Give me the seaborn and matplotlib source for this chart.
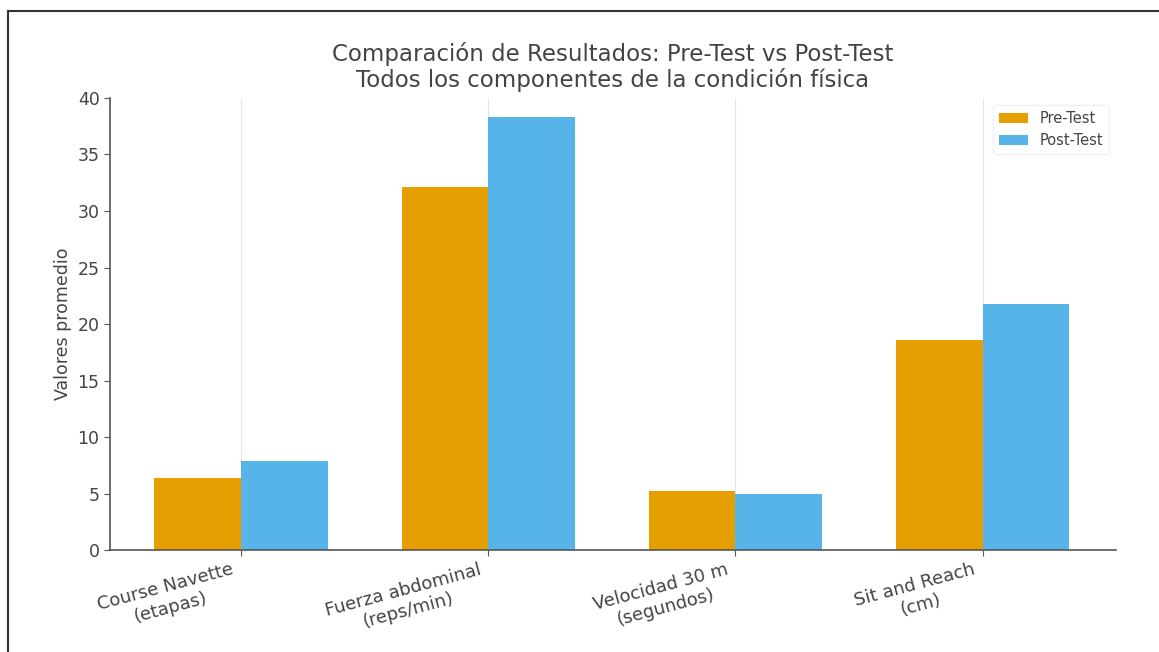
import matplotlib
matplotlib.use('Agg')
import matplotlib.pyplot as plt
import matplotlib.patches as mpatches
import seaborn as sns
import pandas as pd

sns.set_style('ticks')

componentes = ['Course Navette\n(etapas)', 'Fuerza abdominal\n(reps/min)',
               'Velocidad 30 m\n(segundos)', 'Sit and Reach\n(cm)']
pre_test = [6.4, 32.1, 5.2, 18.6]
post_test = [7.9, 38.3, 5.0, 21.8]
pruebas = ['Pre-Test', 'Post-Test']
colores = ['#E69F00', '#56B4E9']

df = pd.DataFrame({
    'componente': componentes * 2,
    'valor': pre_test + post_test,
    'prueba': [pruebas[0]] * len(componentes) + [pruebas[1]] * len(componentes),
})

texto = '#444444'
fig = plt.figure(figsize=(11.59, 6.52), dpi=100)
ax = fig.add_axes([0.0949, 0.1564, 0.8681, 0.6933])

sns.barplot(data=df, x='componente', y='valor', hue='prueba',
            palette=colores, saturation=1, width=0.7, linewidth=0, ax=ax)

ax.set_xlim(-0.53, 3.54)
ax.set_ylim(0, 40)
ax.set_yticks(range(0, 41, 5))
ax.grid(axis='x', color='#e6e6e6', linewidth=0.8)
ax.set_axisbelow(True)
sns.despine(ax=ax)
for s in ['left', 'bottom']:
    ax.spines[s].set_color('#555555')
    ax.spines[s].set_linewidth(1.2)
ax.tick_params(colors='#555555', labelcolor=texto, length=4)
ax.tick_params(axis='y', labelsize=12.5)
ax.tick_params(axis='x', labelsize=13)

ax.set_xlabel('')
ax.set_ylabel('Valores promedio', fontsize=12.5, color=texto)
plt.setp(ax.get_xticklabels(), rotation=15, ha='right',
         multialignment='center')

ax.set_title('Comparación de Resultados: Pre-Test vs Post-Test\n'
             'Todos los componentes de la condición física',
             fontsize=16.5, color=texto, pad=8, linespacing=1.1)

leg = ax.legend(loc='upper right', fontsize=10.5, frameon=True)
leg.get_frame().set_edgecolor('#eeeeee')
for t in leg.get_texts():
    t.set_color(texto)

fig.patches.append(mpatches.Rectangle(
    (8 / 1159, -0.1), 1.2, 1 - 10.5 / 652 + 0.1, transform=fig.transFigure,
    fill=False, edgecolor='#333333', linewidth=1.5))

fig.savefig('out.png', dpi=100)
plt.close('all')
